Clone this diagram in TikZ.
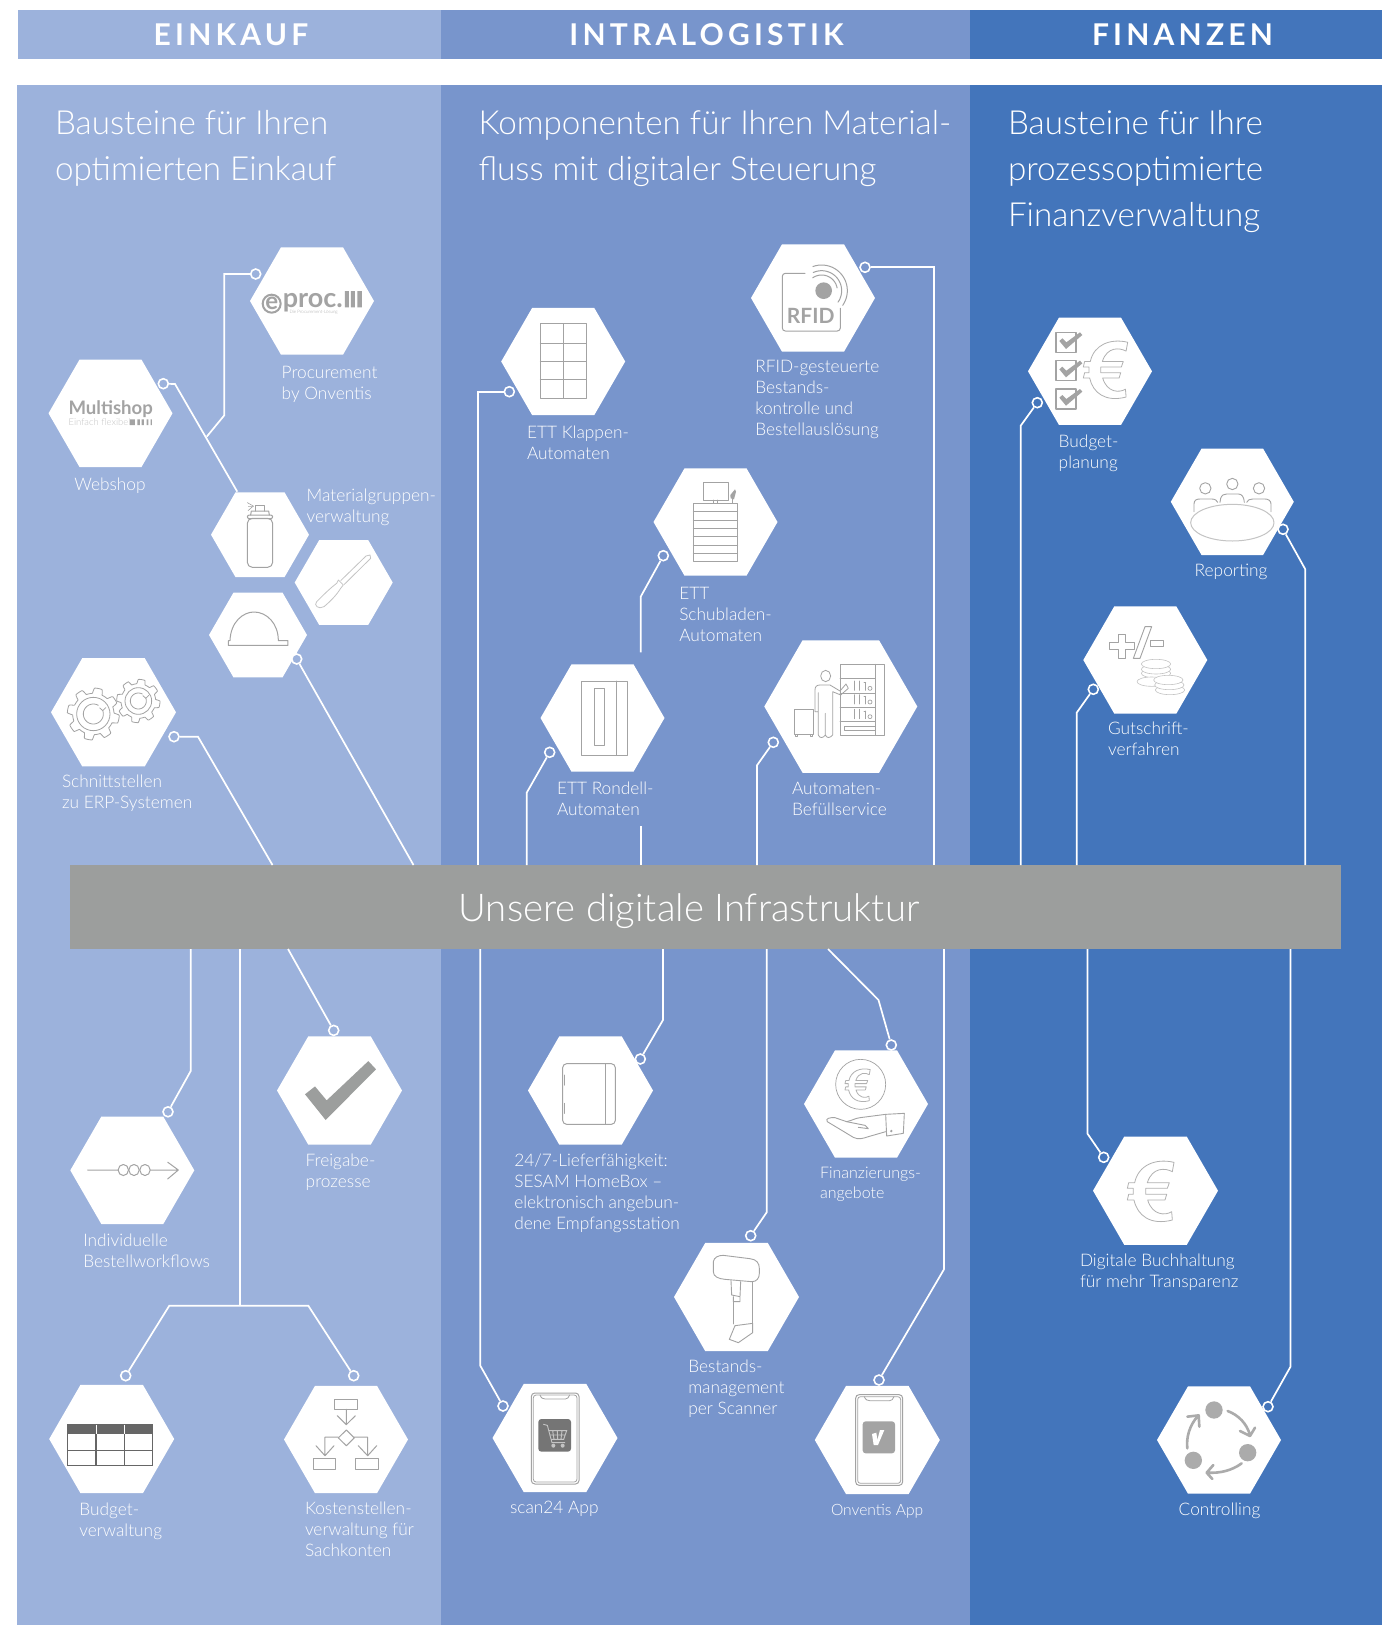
\documentclass[tikz,border=0pt]{standalone}
\usepackage{fontspec}
\setmainfont{Lato}[UprightFont=* Light,BoldFont=* Bold]
\usetikzlibrary{shapes.geometric}
\definecolor{pL}{HTML}{9CB2DC}
\definecolor{pM}{HTML}{7895CC}
\definecolor{pD}{HTML}{4375BB}
\definecolor{banc}{HTML}{9C9E9D}
\definecolor{ig}{HTML}{A3A3A3}
\definecolor{ilight}{HTML}{C4C4C4}
\definecolor{idark}{HTML}{666666}
\definecolor{ctr}{HTML}{ABABAB}
\tikzset{
  x=1pt,y=-1pt,
  hex/.style={regular polygon,regular polygon sides=6,fill=white,draw=none,inner sep=0pt,outer sep=0pt,minimum size=124pt},
  hexs/.style={hex,minimum size=98pt},
  hexb/.style={hex,minimum size=153pt},
  lab/.style={anchor=north west,inner sep=0pt,outer sep=0pt,align=left,text=white,font=\fontsize{17.3}{21}\selectfont},
  ttl/.style={anchor=north west,inner sep=0pt,outer sep=0pt,align=left,text=white,font=\fontsize{33.2}{46.3}\selectfont},
  hdr/.style={anchor=base,inner sep=0pt,outer sep=0pt,text=white,font=\bfseries\fontsize{30}{30}\selectfont\addfontfeature{LetterSpace=14}},
  conn/.style={draw=white,line width=1.7pt,line join=miter},
  dotL/.style={circle,draw=white,line width=1.6pt,fill=pL,minimum size=10pt,inner sep=0pt},
  dotM/.style={dotL,fill=pM},
  dotD/.style={dotL,fill=pD},
  icon/.style={draw=ig,line width=1pt,line join=round,line cap=round},
  iconl/.style={draw=ilight,line width=.8pt,line join=round},
}
\newcommand{\lbl}[4]{\node[lab] (#1) at ({#2},{#3-15}) {\rule{0pt}{15pt}#4};}
\newcommand{\ttlb}[4]{\node[ttl] (#1) at ({#2},{#3-30}) {\rule{0pt}{30pt}#4};}
% euro outline, local box 140 x 183
\newcommand{\euroicon}[3]{\begin{scope}[shift={(#1,#2)},scale=#3]
\draw[icon,line width=.8pt,draw=ig!85] (140,5) -- (135,33) .. controls (115,22) and (75,18) .. (60,66) -- (126,66) -- (120,83) -- (55,83) -- (55,101) -- (118,101) -- (113,118) -- (61,118) .. controls (75,165) and (115,165) .. (133,153) -- (135,178) .. controls (70,195) and (30,165) .. (20,118) -- (0,118) -- (4,101) -- (18,101) -- (18,83) -- (0,83) -- (4,66) -- (22,66) .. controls (33,13) and (85,-8) .. (140,5) -- cycle;
\end{scope}}
% phone
\newcommand{\phoneicon}[4]{%
\draw[icon,rounded corners=3.5pt] (#1,#2) rectangle (#3,#4);
\draw[icon,line width=.8pt,rounded corners=2.8pt] ({#1+6},{#2+6}) rectangle ({#3-6},{#4-6});
\draw[icon,line width=.8pt] ({#1+26},{#2+6}) .. controls ({#1+30},{#2+16}) and ({#1+35},{#2+18}) .. ({#1+42},{#2+18}) -- ({#1+102},{#2+18}) .. controls ({#1+108},{#2+18}) and ({#1+112},{#2+14}) .. ({#1+115},{#2+6});
}
\newcommand{\gearicon}[7]{% cx cy outer root ring arrow rot
\draw[icon,line width=.8pt] plot[domain=0:360,samples=200,variable=\t] ({#1+(#4+(#3-#4)*(0.5+0.5*max(-1,min(1,3*sin(8*\t+#7)))))*cos(\t)},{#2+(#4+(#3-#4)*(0.5+0.5*max(-1,min(1,3*sin(8*\t+#7)))))*sin(\t)});
\draw[icon,line width=.8pt] (#1,#2) circle[radius=#5pt];
\draw[icon,line width=.8pt] plot[domain=-20:300,samples=40,variable=\t] ({#1+#6*cos(\t)},{#2+#6*sin(\t)});
\draw[icon,line width=.8pt] ({#1+#6*0.94-9},{#2-#6*0.34-8}) -- ({#1+#6*0.94},{#2-#6*0.34}) -- ({#1+#6*0.94+9},{#2-#6*0.34-9});
}
\begin{document}
\begin{tikzpicture}
\useasboundingbox (0,0) rectangle (1382,1625);
\fill[white] (0,0) rectangle (1382,1625);
% headers
\fill[pL] (18,10) rectangle (441,59);
\fill[pM] (441,10) rectangle (970,59);
\fill[pD] (970,10) rectangle (1382,59);
\node[hdr] (hA) at (231,45) {EINKAUF};
\node[hdr] (hB) at (706.5,45) {INTRALOGISTIK};
\node[hdr] (hC) at (1182.5,45) {FINANZEN};
% panels
\fill[pL] (17,85) rectangle (441,1625);
\fill[pM] (441,85) rectangle (970,1625);
\fill[pD] (970,85) rectangle (1382,1625);
\ttlb{tA}{55}{134.3}{Bausteine für Ihren\\optimierten Einkauf}
\ttlb{tB}{478.5}{134.3}{Komponenten für Ihren Material-\\fluss mit digitaler Steuerung}
\ttlb{tC}{1008}{134.3}{Bausteine für Ihre\\prozessoptimierte\\Finanzverwaltung}
% banner
\node[fill=banc,inner sep=0pt,outer sep=0pt,minimum width=1271.5pt,minimum height=84pt,anchor=north west] (banner) at (69.5,865) {};
\node[anchor=base,inner sep=0pt,text=white,font=\fontsize{38.3}{40}\selectfont] (bannertext) at (689,921) {Unsere digitale Infrastruktur};
% hexagons
\node[hex] (hEproc) at (312,301) {};
\node[hex] (hMulti) at (110.5,413.3) {};
\node[hexs] (hSpray) at (260,534.7) {};
\node[hexs] (hScrew) at (343.7,582.5) {};
\node[hexs] (hHelm) at (258,635) {};
\node[hex,minimum size=125pt] (hGear) at (113.5,712.3) {};
\node[hex] (hKlapp) at (563.2,361.5) {};
\node[hex] (hRfid) at (813,298) {};
\node[hex] (hSchub) at (715.5,522) {};
\node[hex] (hRond) at (602.5,718) {};
\node[hexb] (hBef) at (840.8,706.5) {};
\node[hex] (hBudP) at (1090,371.3) {};
\node[hex,minimum size=123pt] (hRep) at (1232.3,501.8) {};
\node[hex] (hGut) at (1145.3,660) {};
\node[hex] (hInd) at (132.3,1170.3) {};
\node[hex,minimum size=125pt] (hFrei) at (339.5,1090.5) {};
\node[hex,minimum size=125pt] (hBudV) at (111.7,1439) {};
\node[hex] (hKost) at (346,1439.5) {};
\node[hex,minimum size=125pt] (hHome) at (590.5,1090.5) {};
\node[hex] (hFin) at (866,1104) {};
\node[hex,minimum size=125pt] (hScan) at (736.5,1297) {};
\node[hex,minimum size=125pt] (hS24) at (555,1438) {};
\node[hex,minimum size=125pt] (hOnv) at (877.3,1440) {};
\node[hex,minimum size=125pt] (hBuch) at (1155.5,1190.7) {};
\node[hex] (hCtrl) at (1219,1440) {};
% dots
\node[dotL] (dEproc) at (255.7,274) {};
\node[dotL] (dMulti) at (163.3,383.7) {};
\node[dotL] (dHelm) at (296.7,659) {};
\node[dotL] (dGear) at (174,736.7) {};
\node[dotL] (dInd) at (168,1111.8) {};
\node[dotL] (dFrei) at (333.7,1030.4) {};
\node[dotL] (dBudV) at (125.7,1375.7) {};
\node[dotL] (dKost) at (353.7,1375.7) {};
\node[dotM] (dKlapp) at (509.3,391.7) {};
\node[dotM] (dRfid) at (865,267.3) {};
\node[dotM] (dSchub) at (663.3,555.7) {};
\node[dotM] (dRond) at (549.7,752.3) {};
\node[dotM] (dBef) at (773.3,742.3) {};
\node[dotM] (dHome) at (640.3,1059) {};
\node[dotM] (dFin) at (891.3,1045) {};
\node[dotM] (dScan) at (750.7,1235.7) {};
\node[dotM] (dS24) at (503,1406) {};
\node[dotM] (dOnv) at (879,1380) {};
\node[dotD] (dBudP) at (1037.3,402.7) {};
\node[dotD] (dRep) at (1283,529.3) {};
\node[dotD] (dGut) at (1093.3,689.3) {};
\node[dotD] (dBuch) at (1103.7,1157.3) {};
\node[dotD] (dCtrl) at (1268,1406.7) {};
% connector coordinates
\coordinate (cSpray) at (237.3,491.7);
\coordinate (cJoin) at (206.7,436.7);
\coordinate (cTree) at (240,1305.7);
\coordinate (cSchubEnd) at (640.7,652.3);
\coordinate (cRondTop) at (640.7,826);
% connectors: upper
\draw[conn] (dMulti) -- (175,384) -- (cSpray);
\draw[conn] (dEproc) -- (224.3,274) -- (224.3,415.3) -- (cJoin);
\draw[conn] (dHelm) -- (413.5,0 |- banner.north);
\draw[conn] (dGear) -- (198,736.7) -- (272.5,0 |- banner.north);
\draw[conn] (dKlapp) -- (477.7,391.7) -- (477.7,0 |- banner.north);
\draw[conn] (dRfid) -- (934,267.3) -- (934,0 |- banner.north);
\draw[conn] (dSchub) -- (640.7,596.7) -- (cSchubEnd);
\draw[conn] (cRondTop) -- (640.7,0 |- banner.north);
\draw[conn] (dRond) -- (526.7,792.7) -- (526.7,0 |- banner.north);
\draw[conn] (dBef) -- (757,765.3) -- (757,0 |- banner.north);
\draw[conn] (dBudP) -- (1020.7,425.7) -- (1020.7,0 |- banner.north);
\draw[conn] (dRep) -- (1305.3,569.3) -- (1305.3,0 |- banner.north);
\draw[conn] (dGut) -- (1076.7,712.7) -- (1076.7,0 |- banner.north);
% connectors: lower
\draw[conn] (dInd) -- (190.7,1071) -- (190.7,0 |- banner.south);
\draw[conn] (240,0 |- banner.south) -- (cTree);
\draw[conn] (dBudV) -- (169.3,1305.7) -- (cTree) -- (308.3,1305.7) -- (dKost);
\draw[conn] (dFrei) -- (288,0 |- banner.south);
\draw[conn] (dS24) -- (480.3,1365.7) -- (480.3,0 |- banner.south);
\draw[conn] (dHome) -- (663,1020) -- (663,0 |- banner.south);
\draw[conn] (dScan) -- (766.7,1212.3) -- (766.7,0 |- banner.south);
\draw[conn] (dFin) -- (878.5,1000) -- (828,0 |- banner.south);
\draw[conn] (dOnv) -- (944,1269.3) -- (944,0 |- banner.south);
\draw[conn] (dBuch) -- (1087.5,1133.7) -- (1087.5,0 |- banner.south);
\draw[conn] (dCtrl) -- (1290.5,1366.7) -- (1290.5,0 |- banner.south);
% labels
\lbl{lProc}{281.7}{378.3}{Procurement\\by Onventis}
\lbl{lWeb}{74.3}{490}{Webshop}
\lbl{lMat}{306.7}{501.7}{Materialgruppen-\\verwaltung}
\lbl{lErp}{62}{787.4}{Schnittstellen\\zu ERP-Systemen}
\lbl{lKlapp}{527}{438.3}{ETT Klappen-\\Automaten}
\lbl{lRfid}{755.3}{372.7}{RFID-gesteuerte\\Bestands-\\kontrolle und\\Bestellauslösung}
\lbl{lSchub}{679.3}{599.3}{ETT\\Schubladen-\\Automaten}
\lbl{lRond}{557}{794.3}{ETT Rondell-\\Automaten}
\lbl{lBef}{792}{794.3}{Automaten-\\Befüllservice}
\lbl{lBudP}{1058.7}{447.3}{Budget-\\planung}
\lbl{lRep}{1194.7}{576.7}{Reporting}
\lbl{lGut}{1108}{734.3}{Gutschrift-\\verfahren}
\lbl{lFrei}{305.7}{1166.4}{Freigabe-\\prozesse}
\lbl{lInd}{83.3}{1246.8}{Individuelle\\Bestellworkflows}
\lbl{lBudV}{79.3}{1515.4}{Budget-\\verwaltung}
\lbl{lKost}{305}{1514.3}{Kostenstellen-\\verwaltung für\\Sachkonten}
\lbl{lHome}{514.3}{1166.7}{24/7-Lieferfähigkeit:\\SESAM HomeBox –\\elektronisch angebun-\\dene Empfangsstation}
\node[lab,font=\fontsize{16}{20}\selectfont] (lFin) at (820,1163.3) {\rule{0pt}{15pt}Finanzierungs-\\angebote};
\lbl{lScan}{688.3}{1372.7}{Bestands-\\management\\per Scanner}
\lbl{lS24}{510}{1513.3}{scan24 App}
\node[lab,font=\fontsize{15.6}{20}\selectfont] (lOnv) at (831,1500.7) {\rule{0pt}{15pt}Onventis App};
\lbl{lBuch}{1080}{1266}{Digitale Buchhaltung\\für mehr Transparenz}
\lbl{lCtrl}{1178.7}{1515}{Controlling}
% ---- icons, zoom 1
\begin{scope}[shift={(0,220)},scale=0.33333]
 % eproc
 \draw[ig,line width=2pt] (815,251) circle[radius=27pt];
 \node[anchor=base,inner sep=0pt,text=ig,font=\bfseries\fontsize{24}{24}\selectfont] (eE) at (815,267) {e};
 \node[anchor=base west,inner sep=0pt,text depth=0pt,text=ig,font=\bfseries\fontsize{27}{27}\selectfont] (eProc) at (848,262) {proc.};
 \fill[ig] (1035,213) rectangle (1047,262) (1053,213) rectangle (1065,262) (1072,213) rectangle (1086,262);
 \node[anchor=base west,inner sep=0pt,text=ig,font=\fontsize{4.5}{5}\selectfont] (eSub) at (868,281) {Die Procurement-Lösung};
 % multishop
 \node[anchor=base west,inner sep=0pt,text=ig,font=\bfseries\fontsize{18.6}{19}\selectfont] (mShop) at (205,584) {Multishop};
 \node[anchor=base west,inner sep=0pt,text=ilight,font=\fontsize{9.5}{9}\selectfont] (mSub) at (205,615) {Einfach flexibel};
 \fill[ig] (390,598) rectangle (405,615) (412,598) rectangle (420,615) (425,598) rectangle (432,615) (440,598) rectangle (445,615) (452,598) rectangle (456,615);
 % spray
 \draw[icon,rounded corners=5pt] (742,895) rectangle (818,1042);
 \draw[icon,rounded corners=2pt] (742,885) rectangle (818,896);
 \draw[icon] (752,885) -- (754,873) -- (806,873) -- (808,885);
 \draw[icon] (768,873) -- (768,855) -- (793,855) -- (793,873);
 \draw[icon,line width=.6pt] (742,848) -- (760,858) -- (744,872) (745,860) -- (760,860);
 % screwdriver
 \draw[iconl] (950,1145) .. controls (970,1125) and (990,1105) .. (1010,1090) -- (1015,1080) -- (1030,1095) -- (1022,1105) .. controls (1010,1125) and (990,1145) .. (972,1160) .. controls (955,1170) and (940,1155) .. (950,1145) -- cycle;
 \draw[iconl] (1022,1082) -- (1098,1008) -- (1110,1005) -- (1112,1015) -- (1032,1094);
 % helmet
 \draw[icon] (685,1276) -- (685,1262) -- (690,1262) .. controls (692,1205) and (730,1176) .. (762,1176) .. controls (800,1176) and (835,1210) .. (835,1262) -- (864,1262) -- (864,1276) -- cycle;
\end{scope}
% gears
\begin{scope}[shift={(40,650)},scale=0.33333]
 \gearicon{160}{192}{78}{62}{50}{30}{0}
 \gearicon{295}{153}{65}{52}{40}{24}{20}
\end{scope}
% ---- zoom 2
\begin{scope}[shift={(460,220)},scale=0.33333]
 \draw[icon] (241,311) rectangle (379,535) (309,311) -- (309,535) (241,369) -- (379,369) (241,424) -- (379,424) (241,479) -- (379,479);
 \draw[icon,rounded corners=3pt] (1035,160) -- (967,160) -- (967,333) -- (1141,333) -- (1141,265);
 \fill[ig] (1091,212) circle[radius=25pt];
 \draw[icon] plot[domain=-125:-10,samples=20,variable=\t] ({1085+47*cos(\t)},{212+47*sin(\t)});
 \draw[icon] plot[domain=-115:35,samples=24,variable=\t] ({1085+60*cos(\t)},{212+60*sin(\t)});
 \draw[icon] plot[domain=-110:35,samples=24,variable=\t] ({1085+77*cos(\t)},{212+77*sin(\t)});
 \node[anchor=base,inner sep=0pt,text=ig,font=\bfseries\fontsize{21}{21}\selectfont] (rfidT) at (1052,309) {RFID};
 \draw[icon] (729,788) rectangle (804,840) (700,850) rectangle (833,1023);
 \draw[icon] (760,840) -- (760,850) (772,840) -- (772,850);
 \foreach \yy in {875,900,925,950,975,1000} \draw[icon] (700,\yy) -- (833,\yy);
 \draw[ig,line width=1.2pt] (818,850) -- (818,830);
 \fill[ig] (811,825) -- (825,808) -- (828,815) -- (822,838) -- (812,835) -- cycle;
\end{scope}
% ---- zoom 3
\begin{scope}[shift={(500,620)},scale=0.33333]
 \draw[icon] (245,183) rectangle (383,405) (349,183) -- (349,405) (282,205) rectangle (313,377);
 \draw[icon] (1020,133) rectangle (1154,346) (1126,133) -- (1126,346) (1033,318) rectangle (1126,331);
 \foreach \yy in {175,219,262,303} \draw[icon] (1020,\yy) -- (1126,\yy);
 \foreach \yy in {183,224,268} {
   \draw[icon,line width=.7pt] (1062,\yy) -- (1062,{\yy+28}) (1078,\yy) -- (1078,{\yy+28}) (1092,{\yy+5}) -- (1097,{\yy+5}) (1095,{\yy+5}) -- (1095,{\yy+28});
   \draw[icon,line width=.7pt] (1110,{\yy+22}) circle[radius=6pt];
 }
 \draw[icon,line width=.8pt] (977,168) ellipse[x radius=15pt,y radius=17pt];
 \draw[icon,line width=.8pt] (945,275) -- (945,210) .. controls (945,200) and (950,195) .. (960,195) -- (990,195) -- (1020,213) -- (1038,192) -- (1045,205) -- (1022,225) -- (998,215) -- (998,345) .. controls (990,355) and (980,355) .. (976,345) -- (976,280) -- (976,345) .. controls (970,355) and (958,355) .. (955,345) -- (955,218) -- (955,275) -- cycle;
 \draw[icon,line width=.8pt] (882,268) rectangle (940,342) (885,342) rectangle (892,350) (930,342) rectangle (938,350);
\end{scope}
% ---- zoom 4
\begin{scope}[shift={(970,300)},scale=0.33333]
 \foreach \yy in {97,182,267} {
  \draw[icon,line width=1.1pt] (258,\yy) rectangle (318,{\yy+60});
  \fill[ig] (268,{\yy+26}) -- (277,{\yy+18}) -- (289,{\yy+30}) -- (330,\yy) -- (337,{\yy+8}) -- (288,{\yy+50}) -- cycle;
 }
 \euroicon{340}{122}{0.95}
 \foreach \xx/\yy in {706/565,787/552,867/565} \draw[icon,line width=.9pt] (\xx,\yy) circle[radius=17pt];
 \draw[icon,line width=.9pt] (672,635) -- (672,612) .. controls (672,600) and (680,597) .. (690,597) -- (725,597) .. controls (735,597) and (742,602) .. (743,607);
 \draw[icon,line width=.9pt] (750,607) -- (752,595) .. controls (755,585) and (762,582) .. (770,582) -- (805,582) .. controls (815,582) and (822,590) .. (823,607);
 \draw[icon,line width=.9pt] (830,607) .. controls (832,600) and (840,597) .. (848,597) -- (885,597) .. controls (895,597) and (903,602) .. (903,612) -- (903,635);
 \draw[icon,line width=1pt,draw=ilight] (787,668) ellipse[x radius=125pt,y radius=55pt];
 \draw[icon,line width=.9pt] (418,1028) -- (445,1028) -- (445,1003) -- (467,1003) -- (467,1028) -- (492,1028) -- (492,1048) -- (467,1048) -- (467,1075) -- (445,1075) -- (445,1048) -- (418,1048) -- cycle;
 \draw[icon,line width=.9pt] (490,1075) -- (525,980) -- (545,980) -- (510,1075) -- cycle;
 \draw[icon,line width=.9pt] (540,1020) rectangle (580,1040);
 \foreach \xx/\yy in {558/1120,558/1108,558/1092,545/1145,600/1170,598/1155,595/1140} {
   \draw[iconl,fill=white,line width=.6pt] (\xx,\yy) ellipse[x radius=44pt,y radius=14pt];
 }
\end{scope}
% ---- zoom 5
\begin{scope}[shift={(40,1020)},xscale=0.33333,yscale=0.35714]
 \draw[icon] (143,420) -- (235,420) (331,420) -- (415,420) (383,398) -- (415,420) -- (383,445);
 \foreach \xx in {250,282,315} \draw[icon] (\xx,420) circle[radius=15.5pt];
 \fill[banc] (795,208) -- (825,186) -- (860,225) -- (985,115) -- (1008,138) -- (857,280) -- cycle;
 \fill[idark] (82,1133) rectangle (338,1160);
 \draw[idark,line width=1.1pt] (82,1133) rectangle (338,1248) (82,1205) -- (338,1205) (168,1160) -- (168,1248) (253,1160) -- (253,1248);
 \draw[white,line width=1pt] (168,1133) -- (168,1160) (253,1133) -- (253,1160);
 \draw[icon] (884,1062) rectangle (954,1090) (820,1229) rectangle (888,1258) (947,1229) rectangle (1016,1258);
 \draw[icon] (919,1090) -- (919,1133) (892,1108) -- (919,1133) -- (946,1108);
 \draw[icon] (895,1170) -- (919,1148) -- (943,1170) -- (919,1192) -- cycle;
 \draw[icon] (895,1168) -- (855,1168) -- (855,1220) (828,1192) -- (855,1220) -- (882,1192);
 \draw[icon] (943,1168) -- (983,1168) -- (983,1220) (955,1192) -- (983,1220) -- (1010,1192);
\end{scope}
% ---- zoom 6
\begin{scope}[shift={(470,1020)},scale=0.33333]
 \draw[icon,rounded corners=4pt] (278,131) rectangle (436,313);
 \draw[icon] (406,131) -- (406,313) (282,165) -- (282,195) (282,250) -- (282,280);
 % finance
 \draw[icon,line width=.7pt] (1172,193) circle[radius=75pt];
 \euroicon{1125}{146}{0.54}
 \draw[icon,line width=.9pt] (1072,305) -- (1150,352) .. controls (1165,360) and (1180,355) .. (1195,350) -- (1247,335);
 \draw[icon,line width=.9pt] (1072,305) .. controls (1065,295) and (1080,292) .. (1095,293) -- (1130,305) .. controls (1150,300) and (1155,295) .. (1170,293) -- (1247,283);
 \draw[icon,line width=.9pt] (1130,305) -- (1185,316) -- (1195,326) -- (1165,322);
 \draw[icon,line width=.9pt] (1247,283) -- (1303,280) -- (1300,340) -- (1250,348) -- cycle;
 \fill[ig] (1264,333) circle[radius=4pt];
 % scanner
 \draw[icon,line width=.9pt] (730,725) .. controls (732,712) and (745,706) .. (760,706) -- (840,716) .. controls (860,718) and (868,730) .. (868,745) -- (868,760) .. controls (868,775) and (860,785) .. (845,785) -- (765,778) .. controls (745,776) and (730,770) .. (730,755) -- cycle;
 \draw[icon,line width=.9pt] (848,785) -- (848,910) (790,845) -- (790,912);
 \draw[icon,line width=.9pt] (783,782) -- (785,825) -- (810,830) -- (812,785) (790,830) -- (790,845) -- (810,845) -- (810,830);
 \draw[icon,line width=.9pt] (795,917) -- (848,910) -- (848,938) -- (805,968) -- (778,958) -- cycle;
 % phones
 \phoneicon{184}{1119}{327}{1392}
 \fill[idark!90,rounded corners=3pt] (205,1197) rectangle (303,1295);
 \draw[ilight,line width=.9pt] (220,1213) -- (232,1216) -- (246,1268) -- (285,1268);
 \draw[ilight,line width=.9pt] (236,1232) -- (290,1232) -- (281,1258) -- (243,1258) (248,1232) -- (252,1258) (262,1232) -- (263,1258) (276,1232) -- (273,1258) (239,1245) -- (286,1245);
 \fill[ilight] (250,1277) circle[radius=6pt] (278,1277) circle[radius=6pt];
 \phoneicon{1157}{1124}{1298}{1396}
 \fill[ig,rounded corners=3pt] (1178,1204) rectangle (1275,1300);
 \fill[white] (1206,1242) -- (1219,1238) -- (1222,1260) -- (1230,1230) -- (1243,1230) -- (1224,1275) -- (1211,1275) -- cycle;
\end{scope}
% ---- zoom 7
\begin{scope}[shift={(1050,1100)},scale=0.33333]
 \euroicon{232}{182}{1}
 \fill[ctr] (492,930) circle[radius=26pt] (593,1058) circle[radius=26pt] (430,1081) circle[radius=26pt];
 \draw[ctr,line width=2.6pt,line cap=round,line join=round] (533,933) .. controls (565,945) and (590,970) .. (600,1005) (570,993) -- (600,1008) -- (615,983);
 \draw[ctr,line width=2.6pt,line cap=round,line join=round] (575,1090) .. controls (545,1112) and (510,1120) .. (473,1118) (490,1095) -- (470,1118) -- (487,1137);
 \draw[ctr,line width=2.6pt,line cap=round,line join=round] (412,1045) .. controls (408,1010) and (420,975) .. (442,950) (412,950) -- (446,946) -- (448,980);
\end{scope}
\end{tikzpicture}
\end{document}
